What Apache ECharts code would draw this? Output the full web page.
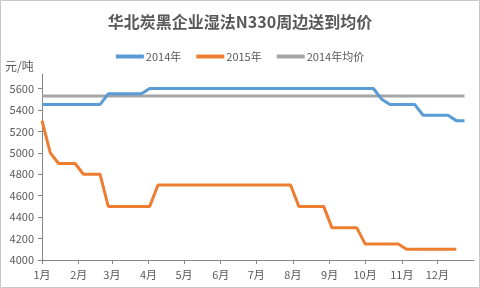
<!DOCTYPE html>
<html>
<head>
<meta charset="utf-8">
<script src="https://cdn.jsdelivr.net/npm/echarts@6/dist/echarts.min.js"></script>
<style>
html,body{margin:0;padding:0;background:#fff;}
#c{width:480px;height:288px;}
</style>
</head>
<body>
<div id="c"></div>
<script>
// Month tick positions (day of year) and labels
const monthDays = [0, 31, 59, 90, 120, 151, 181, 212, 243, 273, 304, 334];
const monthLabels = ['1月','2月','3月','4月','5月','6月','7月','8月','9月','10月','11月','12月'];
const yTicks = [4000, 4200, 4400, 4600, 4800, 5000, 5200, 5400, 5600];

// Weekly prices (week i = day 7*i)
const price2014 = [
  5450,5450,5450,5450,5450,5450,5450,5450,
  5550,5550,5550,5550,5550,
  5600,5600,5600,5600,5600,5600,5600,5600,5600,5600,
  5600,5600,5600,5600,5600,5600,5600,5600,5600,5600,
  5600,5600,5600,5600,5600,5600,5600,5600,
  5500,
  5450,5450,5450,5450,
  5350,5350,5350,5350,
  5300,5300
];
const price2015 = [
  5300,
  5000,
  4900,4900,4900,
  4800,4800,4800,
  4500,4500,4500,4500,4500,4500,
  4700,4700,4700,4700,4700,4700,4700,4700,4700,4700,4700,4700,4700,4700,4700,4700,4700,
  4500,4500,4500,4500,
  4300,4300,4300,4300,
  4150,4150,4150,4150,4150,
  4100,4100,4100,4100,4100,4100,4100
];
const avg2014 = 5530;
const seriesNames = ['2014年','2015年','2014年均价'];

const toPairs = arr => arr.map((v, i) => [i * 7, v]);
const avgData = [[0, avg2014], [(price2014.length - 1) * 7, avg2014]];

const axisGray = '#868686';
const textGray = '#595959';
const font = '"Noto Sans CJK SC", "Noto Sans", sans-serif';

const chart = echarts.init(document.getElementById('c'), null, {renderer: 'canvas'});
chart.setOption({
  animation: false,
  backgroundColor: '#fff',
  title: {
    text: '华北炭黑企业湿法N330周边送到均价',
    left: 'center',
    top: 9,
    textStyle: {fontSize: 16, fontWeight: 'bold', color: textGray, fontFamily: font}
  },
  legend: {
    top: 46,
    left: 'center',
    itemWidth: 28,
    itemHeight: 4,
    itemGap: 15,
    icon: 'rect',
    textStyle: {fontSize: 11, color: textGray, fontFamily: font, padding: [0, 0, 0, -3]},
    data: seriesNames
  },
  graphic: [
    {type: 'rect', shape: {x: 0.5, y: 0.5, width: 479, height: 287}, style: {fill: 'none', stroke: '#c8c8c8', lineWidth: 1}, silent: true},
    {type: 'text', left: 5, top: 60, style: {text: '元/吨', fontSize: 12, fill: textGray, fontFamily: font}}
  ],
  grid: {left: 42, right: 6, top: 74, bottom: 28, containLabel: false, outerBoundsMode: 'none'},
  xAxis: {
    type: 'value',
    min: 0,
    max: 365,
    splitLine: {show: false},
    axisLine: {lineStyle: {color: axisGray}},
    axisTick: {show: true, length: 4, customValues: monthDays, lineStyle: {color: axisGray}},
    axisLabel: {
      customValues: monthDays,
      formatter: v => monthLabels[monthDays.indexOf(v)] || '',
      fontSize: 11, color: textGray, fontFamily: font, margin: 9
    }
  },
  yAxis: {
    type: 'value',
    min: 4000,
    max: 5735,
    splitLine: {show: false},
    axisLine: {show: true, lineStyle: {color: axisGray}},
    axisTick: {show: true, length: 4, customValues: yTicks, lineStyle: {color: axisGray}},
    axisLabel: {customValues: yTicks, formatter: v => String(v), fontSize: 11, color: textGray, fontFamily: font, margin: 8}
  },
  series: [
    {name: seriesNames[0], type: 'line', data: toPairs(price2014), showSymbol: false, symbol: 'none',
     lineStyle: {width: 3, color: '#5B9BD5'}, itemStyle: {color: '#5B9BD5'}, z: 3},
    {name: seriesNames[1], type: 'line', data: toPairs(price2015), showSymbol: false, symbol: 'none',
     lineStyle: {width: 3, color: '#ED7D31'}, itemStyle: {color: '#ED7D31'}, z: 3},
    {name: seriesNames[2], type: 'line', data: avgData, showSymbol: false, symbol: 'none',
     lineStyle: {width: 3, color: '#A5A5A5'}, itemStyle: {color: '#A5A5A5'}, z: 2}
  ]
});
</script>
</body>
</html>
